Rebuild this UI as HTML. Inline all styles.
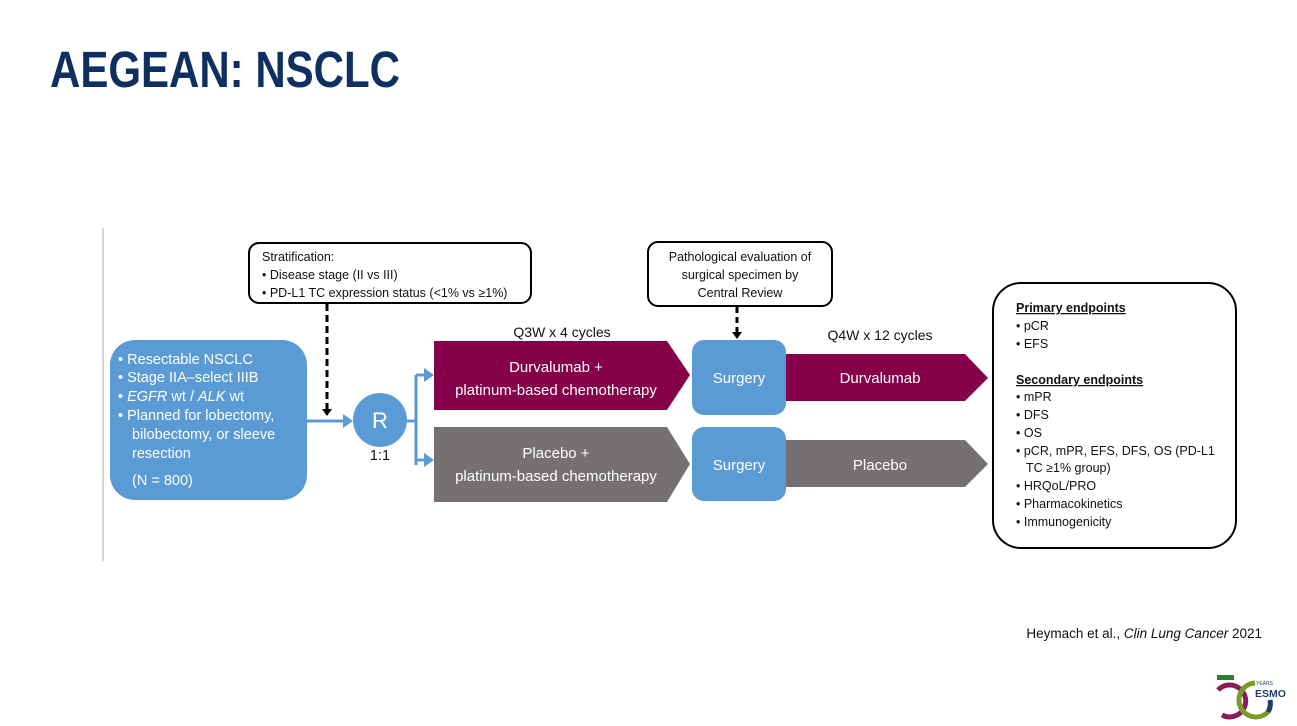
<!DOCTYPE html>
<html><head><meta charset="utf-8"><style>
html,body{margin:0;padding:0;background:#fff;}
svg{display:block;}
text{font-family:"Liberation Sans","DejaVu Sans",sans-serif;}
</style></head><body>
<svg width="1297" height="726" viewBox="0 0 1297 726" xmlns="http://www.w3.org/2000/svg">
<text x="50" y="87" font-size="51" font-weight="bold" fill="#0d3061" textLength="350" lengthAdjust="spacingAndGlyphs">AEGEAN: NSCLC</text>
<rect x="102" y="228" width="2" height="333" fill="#ddd5c8"/>
<rect x="110" y="340" width="197" height="160" rx="25" fill="#5b9bd5"/>
<g fill="#fff" font-size="14.5">
<text x="118" y="364">• Resectable NSCLC</text>
<text x="118" y="382">• Stage IIA–select IIIB</text>
<text x="118" y="401">• <tspan font-style="italic">EGFR</tspan> wt / <tspan font-style="italic">ALK</tspan> wt</text>
<text x="118" y="420">• Planned for lobectomy,</text>
<text x="132" y="439">bilobectomy, or sleeve</text>
<text x="132" y="458">resection</text>
<text x="132" y="485">(N = 800)</text>
</g>
<rect x="249" y="243" width="282" height="60" rx="10" fill="#fff" stroke="#000" stroke-width="2"/>
<g font-size="12.5" fill="#111">
<text x="262" y="261">Stratification:</text>
<text x="262" y="279">• Disease stage (II vs III)</text>
<text x="262" y="297">• PD-L1 TC expression status (&lt;1% vs ≥1%)</text>
</g>
<line x1="327" y1="304" x2="327" y2="410" stroke="#000" stroke-width="3" stroke-dasharray="7,4"/>
<polygon points="322,409 332,409 327,416" fill="#000"/>
<line x1="307" y1="421" x2="344" y2="421" stroke="#5b9bd5" stroke-width="3"/>
<polygon points="343,414 353,421 343,428" fill="#5b9bd5"/>
<circle cx="380" cy="420" r="27" fill="#5b9bd5"/>
<text x="380" y="428" font-size="22" fill="#fff" text-anchor="middle">R</text>
<text x="380" y="460" font-size="14.5" fill="#111" text-anchor="middle">1:1</text>
<path d="M407 421 H416 M416 375 V465 M416 375 H426 M416 460 H426" stroke="#5b9bd5" stroke-width="3" fill="none"/>
<polygon points="424,368 434,375 424,382" fill="#5b9bd5"/>
<polygon points="424,453 434,460 424,467" fill="#5b9bd5"/>
<polygon points="434,341 667,341 690,375 667,410 434,410" fill="#850048"/>
<polygon points="434,427 667,427 690,464 667,502 434,502" fill="#767171"/>
<g fill="#fff" font-size="15" text-anchor="middle">
<text x="556" y="372">Durvalumab +</text>
<text x="556" y="395">platinum-based chemotherapy</text>
<text x="556" y="458">Placebo +</text>
<text x="556" y="481">platinum-based chemotherapy</text>
</g>
<text x="562" y="337" font-size="14" fill="#111" text-anchor="middle">Q3W x 4 cycles</text>
<rect x="648" y="242" width="184" height="64" rx="10" fill="#fff" stroke="#000" stroke-width="2"/>
<g font-size="12.5" fill="#111" text-anchor="middle">
<text x="740" y="261">Pathological evaluation of</text>
<text x="740" y="279">surgical specimen by</text>
<text x="740" y="297">Central Review</text>
</g>
<line x1="737" y1="307" x2="737" y2="333" stroke="#000" stroke-width="3" stroke-dasharray="6,4"/>
<polygon points="732,332 742,332 737,339" fill="#000"/>
<rect x="692" y="340" width="94" height="75" rx="12" fill="#5b9bd5"/>
<rect x="692" y="427" width="94" height="74" rx="12" fill="#5b9bd5"/>
<g fill="#fff" font-size="15" text-anchor="middle">
<text x="739" y="383">Surgery</text>
<text x="739" y="470">Surgery</text>
</g>
<polygon points="786,354 965,354 988,378 965,401 786,401" fill="#850048"/>
<polygon points="786,440 965,440 988,464 965,487 786,487" fill="#767171"/>
<g fill="#fff" font-size="15" text-anchor="middle">
<text x="880" y="383">Durvalumab</text>
<text x="880" y="470">Placebo</text>
</g>
<text x="880" y="340" font-size="14" fill="#111" text-anchor="middle">Q4W x 12 cycles</text>
<rect x="993" y="283" width="243" height="265" rx="28" fill="#fff" stroke="#000" stroke-width="2"/>
<g font-size="12.5" fill="#111">
<text x="1016" y="312" font-weight="bold" text-decoration="underline">Primary endpoints</text>
<text x="1016" y="330">• pCR</text>
<text x="1016" y="348">• EFS</text>
<text x="1016" y="384" font-weight="bold" text-decoration="underline">Secondary endpoints</text>
<text x="1016" y="401">• mPR</text>
<text x="1016" y="419">• DFS</text>
<text x="1016" y="437">• OS</text>
<text x="1016" y="455">• pCR, mPR, EFS, DFS, OS (PD-L1</text>
<text x="1026" y="472">TC ≥1% group)</text>
<text x="1016" y="490">• HRQoL/PRO</text>
<text x="1016" y="508">• Pharmacokinetics</text>
<text x="1016" y="526">• Immunogenicity</text>
</g>
<text x="1262" y="638" font-size="13.5" fill="#111" text-anchor="end">Heymach et al., <tspan font-style="italic">Clin Lung Cancer</tspan> 2021</text>
<rect x="1217" y="675" width="17" height="5" fill="#2e7d32"/>
<path d="M1218 690 A16 16 0 1 1 1222 715" stroke="#8b1a5a" stroke-width="5" fill="none"/>
<path d="M1255 683 A17 17 0 1 0 1268 712" stroke="#7a9a2a" stroke-width="5" fill="none"/>
<path d="M1268 712 A17 17 0 0 0 1270 700" stroke="#1f3a6b" stroke-width="5" fill="none"/>
<text x="1256" y="685" font-size="5" fill="#1f3a6b">YEARS</text>
<text x="1255" y="697" font-size="10.5" font-weight="bold" fill="#1f3a6b">ESMO</text>
</svg>
</body></html>
